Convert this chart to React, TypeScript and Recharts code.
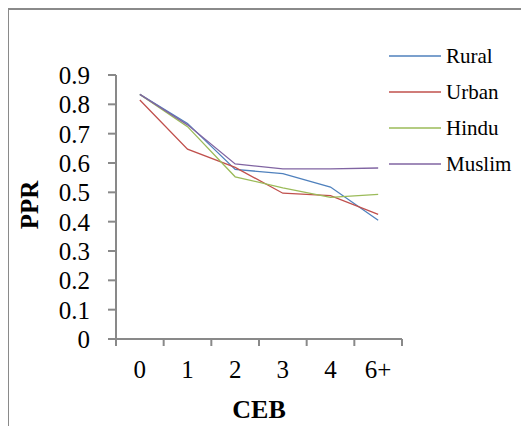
import { LineChart, Line, XAxis, YAxis, Legend } from "recharts";

const categories = ["0", "1", "2", "3", "4", "6+"];
const rural = [0.834, 0.735, 0.578, 0.564, 0.518, 0.405];
const urban = [0.815, 0.647, 0.585, 0.497, 0.489, 0.425];
const hindu = [0.834, 0.724, 0.553, 0.515, 0.483, 0.493];
const muslim = [0.834, 0.73, 0.597, 0.58, 0.58, 0.583];
const yTicks = [0, 0.1, 0.2, 0.3, 0.4, 0.5, 0.6, 0.7, 0.8, 0.9];

const SERIES = [
  { key: "Rural", color: "#4f81bd" },
  { key: "Urban", color: "#c0504d" },
  { key: "Hindu", color: "#9bbb59" },
  { key: "Muslim", color: "#8064a2" },
];

const data = categories.map((c, i) => ({
  cat: c,
  Rural: rural[i],
  Urban: urban[i],
  Hindu: hindu[i],
  Muslim: muslim[i],
}));

const FONT = "'Liberation Serif', 'DejaVu Serif', serif";
const AXIS = "#898989";
const BAND = 286 / 6;

function XTick(props: any) {
  const { x, y, payload, index } = props;
  const half = BAND / 2;
  return (
    <g>
      <line x1={x - half} x2={x - half} y1={y - 8} y2={y - 1} stroke={AXIS} strokeWidth={2} />
      {index === categories.length - 1 && (
        <line x1={x + half} x2={x + half} y1={y - 8} y2={y - 1} stroke={AXIS} strokeWidth={2} />
      )}
      <text x={x} y={y + 31} textAnchor="middle" fontFamily={FONT} fontSize={25} fill="#000">
        {payload.value}
      </text>
    </g>
  );
}

function LegendBox() {
  return (
    <div style={{ fontFamily: FONT, fontSize: 21, color: "#000" }}>
      {SERIES.map((s) => (
        <div key={s.key} style={{ display: "flex", alignItems: "center", height: 36 }}>
          <svg width={52} height={4} style={{ marginRight: 5 }}>
            <line x1={0} x2={52} y1={2} y2={2} stroke={s.color} strokeWidth={1.3} />
          </svg>
          <span>{s.key}</span>
        </div>
      ))}
    </div>
  );
}

export default function App() {
  return (
    <div style={{ position: "relative", width: 529, height: 434, margin: -8, overflow: "hidden", background: "#fff" }}>
      <div
        style={{
          position: "absolute",
          left: 7,
          top: 8,
          width: 600,
          height: 500,
          border: "2px solid #8a8a8a",
        }}
      />
      <div style={{ position: "absolute", left: 0, top: 0 }}>
        <LineChart width={529} height={434} data={data} margin={{ top: 75, right: 127, left: 0, bottom: 0 }}>
          <XAxis
            dataKey="cat"
            height={95}
            stroke={AXIS}
            strokeWidth={2}
            tickLine={false}
            tick={<XTick />}
            interval={0}
            padding={{ left: BAND / 2, right: BAND / 2 }}
            label={{
              value: "CEB",
              position: "insideBottom",
              offset: 16,
              fontFamily: FONT,
              fontSize: 26,
              fontWeight: "bold",
              fill: "#000",
            }}
          />
          <YAxis
            width={116}
            domain={[0, 0.9]}
            ticks={yTicks}
            interval={0}
            stroke={AXIS}
            strokeWidth={2}
            tickSize={8}
            tick={{ fontFamily: FONT, fontSize: 25, fill: "#000" }}
            tickMargin={18}
            label={{
              content: () => (
                <text
                  x={38}
                  y={205}
                  transform="rotate(-90 38 205)"
                  textAnchor="middle"
                  fontFamily={FONT}
                  fontSize={25}
                  fontWeight="bold"
                  fill="#000"
                >
                  PPR
                </text>
              ),
            }}
          />
          <Legend
            layout="vertical"
            align="center"
            verticalAlign="middle"
            wrapperStyle={{ left: 389, top: 38, width: 140 }}
            content={() => <LegendBox />}
          />
          {SERIES.map((s) => (
            <Line
              key={s.key}
              dataKey={s.key}
              stroke={s.color}
              strokeWidth={1.3}
              dot={false}
              isAnimationActive={false}
            />
          ))}
        </LineChart>
      </div>
    </div>
  );
}
